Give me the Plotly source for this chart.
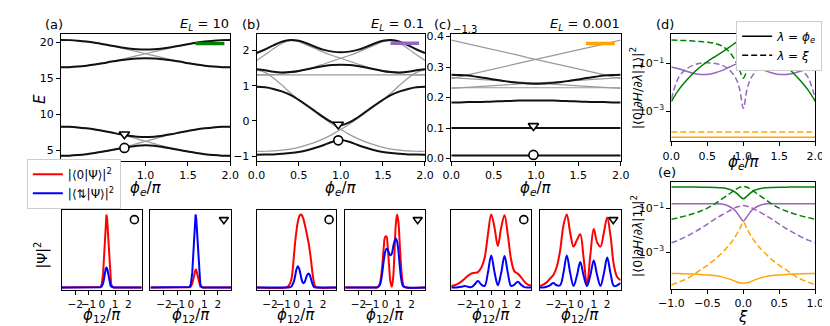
import plotly.graph_objects as go

W, H = 830, 326
FONT = 'DejaVu Sans'

# ---------------- data ----------------
PHI_E = [0.0, 0.1, 0.2, 0.3, 0.4, 0.5, 0.6, 0.7, 0.8, 0.9, 1.0,
         1.1, 1.2, 1.3, 1.4, 1.5, 1.6, 1.7, 1.8, 1.9, 2.0]

# (a) E_L = 10
A_GRAY_UP_LO = [4.2, 4.22, 4.3, 4.42, 4.58, 4.79, 5.02, 5.29, 5.58, 5.9, 6.22,
                6.55, 6.87, 7.16, 7.43, 7.66, 7.87, 8.03, 8.15, 8.23, 8.25]
A_GRAY_DN_LO = [8.25, 8.23, 8.15, 8.03, 7.87, 7.66, 7.43, 7.16, 6.87, 6.55, 6.22,
                5.9, 5.58, 5.29, 5.02, 4.79, 4.58, 4.42, 4.3, 4.22, 4.2]
A_GRAY_UP_HI = [16.5, 16.52, 16.6, 16.72, 16.88, 17.08, 17.32, 17.58, 17.85, 18.12, 18.4,
                18.68, 18.95, 19.22, 19.48, 19.72, 19.92, 20.08, 20.2, 20.28, 20.3]
A_GRAY_DN_HI = [20.3, 20.28, 20.2, 20.08, 19.92, 19.72, 19.48, 19.22, 18.95, 18.68, 18.4,
                18.12, 17.85, 17.58, 17.32, 17.08, 16.88, 16.72, 16.6, 16.52, 16.5]
A_BLACK_1 = [4.2, 4.22, 4.3, 4.42, 4.58, 4.79, 5.0, 5.22, 5.43, 5.6, 5.67,
             5.6, 5.43, 5.22, 5.0, 4.79, 4.58, 4.42, 4.3, 4.22, 4.2]
A_BLACK_2 = [8.25, 8.23, 8.15, 8.03, 7.87, 7.66, 7.43, 7.2, 7.0, 6.86, 6.8,
             6.86, 7.0, 7.2, 7.43, 7.66, 7.87, 8.03, 8.15, 8.23, 8.25]
A_BLACK_3 = [16.5, 16.52, 16.6, 16.72, 16.88, 17.08, 17.3, 17.48, 17.62, 17.72, 17.75,
             17.72, 17.62, 17.48, 17.3, 17.08, 16.88, 16.72, 16.6, 16.52, 16.5]
A_BLACK_4 = [20.3, 20.28, 20.2, 20.08, 19.92, 19.72, 19.5, 19.3, 19.13, 19.02, 18.98,
             19.02, 19.13, 19.3, 19.5, 19.72, 19.92, 20.08, 20.2, 20.28, 20.3]
A_MARK_PHI = [0.75, 0.75]
A_MARK_E = [5.3, 7.2]

# (b) E_L = 0.1
B_GRAY_UP = [-0.86, -0.86, -0.85, -0.83, -0.8, -0.75, -0.68, -0.6, -0.5, -0.38, -0.24,
             -0.09, 0.07, 0.24, 0.42, 0.6, 0.8, 1.02, 1.22, 1.38, 1.45]
B_GRAY_DN = [1.45, 1.38, 1.22, 1.02, 0.8, 0.6, 0.42, 0.24, 0.07, -0.09, -0.24,
             -0.38, -0.5, -0.6, -0.68, -0.75, -0.8, -0.83, -0.85, -0.86, -0.86]
B_GRAY_HUMP_L = [1.72, 1.88, 2.05, 2.2, 2.28, 2.25, 2.15, 2.05, 1.95, 1.86, 1.78,
                 1.7, 1.62, 1.54, 1.47, 1.41, 1.37, 1.34, 1.32, 1.31, 1.31]
B_GRAY_HUMP_R = [1.31, 1.31, 1.32, 1.34, 1.37, 1.41, 1.47, 1.54, 1.62, 1.7, 1.78,
                 1.86, 1.95, 2.05, 2.15, 2.25, 2.28, 2.2, 2.05, 1.88, 1.72]
B_GRAY_FLAT = [1.31, 1.31, 1.31, 1.31, 1.31, 1.31, 1.31, 1.31, 1.31, 1.31, 1.31,
               1.31, 1.31, 1.31, 1.31, 1.31, 1.31, 1.31, 1.31, 1.31, 1.31]
B_BLACK_1 = [-0.96, -0.955, -0.95, -0.93, -0.91, -0.88, -0.83, -0.76, -0.68, -0.59, -0.54,
             -0.59, -0.68, -0.76, -0.83, -0.88, -0.91, -0.93, -0.95, -0.955, -0.96]
B_BLACK_2 = [0.97, 0.955, 0.91, 0.84, 0.74, 0.6, 0.44, 0.27, 0.1, -0.04, -0.12,
             -0.04, 0.1, 0.27, 0.44, 0.6, 0.74, 0.84, 0.91, 0.955, 0.97]
B_BLACK_3 = [1.47, 1.44, 1.4, 1.38, 1.39, 1.42, 1.47, 1.52, 1.56, 1.59, 1.6,
             1.59, 1.56, 1.52, 1.47, 1.42, 1.39, 1.38, 1.4, 1.44, 1.47]
B_BLACK_4 = [1.93, 2.03, 2.15, 2.25, 2.3, 2.28, 2.2, 2.1, 2.02, 1.97, 1.95,
             1.97, 2.02, 2.1, 2.2, 2.28, 2.3, 2.25, 2.15, 2.03, 1.93]
B_MARK_PHI = [0.97, 0.97]
B_MARK_E = [-0.55, -0.1]

# (c) E_L = 0.001
C_GRAY_DN = [0.388, 0.382, 0.375, 0.369, 0.363, 0.357, 0.350, 0.344, 0.338, 0.331, 0.325,
             0.319, 0.313, 0.306, 0.300, 0.294, 0.287, 0.281, 0.275, 0.268, 0.262]
C_GRAY_UP = [0.262, 0.268, 0.275, 0.281, 0.287, 0.294, 0.300, 0.306, 0.313, 0.319, 0.325,
             0.331, 0.338, 0.344, 0.350, 0.357, 0.363, 0.369, 0.375, 0.382, 0.388]
C_GRAY_DN2 = [0.265, 0.263, 0.262, 0.260, 0.258, 0.256, 0.254, 0.253, 0.251, 0.249, 0.2475,
              0.246, 0.244, 0.242, 0.240, 0.239, 0.237, 0.235, 0.233, 0.232, 0.230]
C_GRAY_UP2 = [0.230, 0.232, 0.233, 0.235, 0.237, 0.239, 0.240, 0.242, 0.244, 0.246, 0.2475,
              0.249, 0.251, 0.253, 0.254, 0.256, 0.258, 0.260, 0.262, 0.263, 0.265]
C_GRAY_FLAT = [0.232, 0.232, 0.232, 0.232, 0.232, 0.232, 0.232, 0.232, 0.232, 0.232, 0.232,
               0.232, 0.232, 0.232, 0.232, 0.232, 0.232, 0.232, 0.232, 0.232, 0.232]
C_BLACK_1 = [0.01, 0.01, 0.01, 0.01, 0.01, 0.01, 0.01, 0.01, 0.01, 0.01, 0.01,
             0.01, 0.01, 0.01, 0.01, 0.01, 0.01, 0.01, 0.01, 0.01, 0.01]
C_BLACK_2 = [0.1, 0.1, 0.1, 0.1, 0.1, 0.1, 0.1, 0.1, 0.1, 0.1, 0.1,
             0.1, 0.1, 0.1, 0.1, 0.1, 0.1, 0.1, 0.1, 0.1, 0.1]
C_BLACK_3 = [0.184, 0.184, 0.185, 0.185, 0.186, 0.187, 0.188, 0.189, 0.19, 0.19, 0.19,
             0.19, 0.19, 0.189, 0.188, 0.187, 0.186, 0.185, 0.185, 0.184, 0.184]
C_BLACK_4 = [0.275, 0.274, 0.272, 0.268, 0.264, 0.259, 0.255, 0.251, 0.248, 0.246, 0.245,
             0.246, 0.248, 0.251, 0.255, 0.259, 0.264, 0.268, 0.272, 0.274, 0.275]
C_MARK_PHI = [0.97, 0.97]
C_MARK_E = [0.012, 0.107]

# colour-key bars in the top panels
BAR_PHI = [1.59, 1.93]
BAR_E_A = [19.8, 19.8]
BAR_E_B = [2.21, 2.21]
BAR_E_C = [0.377, 0.377]

# (d) matrix elements vs phi_e (log10 values)
D_PHI = [0.0, 0.1, 0.2, 0.3, 0.4, 0.5, 0.6, 0.7, 0.8, 0.9, 0.95, 1.0,
         1.05, 1.1, 1.2, 1.3, 1.4, 1.5, 1.6, 1.7, 1.8, 1.9, 2.0]
D_GREEN_SOLID = [-2.6, -2.12, -1.75, -1.42, -1.15, -0.92, -0.73, -0.54, -0.33, -0.12, -0.04, 0.0,
                 -0.04, -0.12, -0.33, -0.54, -0.73, -0.92, -1.15, -1.42, -1.75, -2.12, -2.6]
D_GREEN_DASH = [-0.02, -0.03, -0.04, -0.06, -0.08, -0.11, -0.16, -0.26, -0.5, -0.95, -1.3, -1.62,
                -1.3, -0.95, -0.5, -0.26, -0.16, -0.11, -0.08, -0.06, -0.04, -0.03, -0.02]
D_PURPLE_SOLID = [-1.15, -1.22, -1.32, -1.41, -1.46, -1.46, -1.4, -1.3, -1.16, -1.03, -0.98, -0.96,
                  -0.98, -1.03, -1.16, -1.3, -1.4, -1.46, -1.46, -1.41, -1.32, -1.22, -1.15]
D_PURPLE_DASH = [-2.5, -1.6, -1.25, -1.08, -0.99, -0.97, -1.0, -1.07, -1.25, -1.65, -2.1, -2.88,
                 -2.1, -1.65, -1.25, -1.07, -1.0, -0.97, -0.99, -1.08, -1.25, -1.6, -2.5]
D_ORANGE_SOLID = [-4.1] * 23
D_ORANGE_DASH = [-3.88] * 23

# (e) matrix elements vs xi (log10 values)
E_XI = [-1.0, -0.9, -0.8, -0.7, -0.6, -0.5, -0.4, -0.3, -0.2, -0.15, -0.1, -0.05, 0.0,
        0.05, 0.1, 0.15, 0.2, 0.3, 0.4, 0.5, 0.6, 0.7, 0.8, 0.9, 1.0]
E_GREEN_SOLID = [-0.02, -0.02, -0.02, -0.02, -0.03, -0.03, -0.04, -0.06, -0.12, -0.18, -0.29, -0.44, -0.56,
                 -0.44, -0.29, -0.18, -0.12, -0.06, -0.04, -0.03, -0.03, -0.02, -0.02, -0.02, -0.02]
E_GREEN_DASH = [-1.5, -1.42, -1.34, -1.24, -1.13, -0.99, -0.8, -0.58, -0.35, -0.23, -0.12, -0.03, 0.01,
                -0.03, -0.12, -0.23, -0.35, -0.58, -0.8, -0.99, -1.13, -1.24, -1.34, -1.42, -1.5]
E_PURPLE_SOLID = [-0.79, -0.79, -0.79, -0.79, -0.79, -0.79, -0.79, -0.8, -0.9, -1.0, -1.15, -1.38, -1.58,
                  -1.38, -1.15, -1.0, -0.9, -0.8, -0.79, -0.79, -0.79, -0.79, -0.79, -0.79, -0.79]
E_PURPLE_DASH = [-2.57, -2.45, -2.3, -2.12, -1.93, -1.72, -1.5, -1.3, -1.12, -1.03, -0.95, -0.9, -0.87,
                 -0.9, -0.95, -1.03, -1.12, -1.3, -1.5, -1.72, -1.93, -2.12, -2.3, -2.45, -2.57]
E_ORANGE_SOLID = [-3.97, -3.98, -3.99, -4.0, -4.02, -4.04, -4.07, -4.13, -4.22, -4.28, -4.35, -4.4, -4.42,
                  -4.4, -4.35, -4.28, -4.22, -4.13, -4.07, -4.04, -4.02, -4.0, -3.99, -3.98, -3.97]
E_ORANGE_DASH = [-4.5, -4.37, -4.24, -4.05, -3.82, -3.6, -3.35, -3.04, -2.69, -2.47, -2.22, -1.93, -1.62,
                 -1.93, -2.22, -2.47, -2.69, -3.04, -3.35, -3.6, -3.82, -4.05, -4.24, -4.37, -4.5]

# wavefunctions |Psi|^2 (bottom row)
PSI_A_X = [-3.0, -0.2, -0.1, 0.0, 0.05, 0.1, 0.15, 0.2, 0.25, 0.3, 0.35,
           0.4, 0.45, 0.5, 0.55, 0.6, 0.65, 0.7, 0.8, 0.9, 3.0]
A_CIRC_RED = [0, 0, 0.006, 0.044, 0.1, 0.2, 0.36, 0.56, 0.78, 0.94, 1.0,
              0.94, 0.78, 0.56, 0.36, 0.2, 0.1, 0.044, 0.006, 0, 0]
A_CIRC_BLUE = [0, 0, 0.003, 0.015, 0.03, 0.06, 0.1, 0.16, 0.22, 0.26, 0.27,
               0.26, 0.22, 0.16, 0.1, 0.06, 0.03, 0.015, 0.003, 0, 0]
A_TRI_RED = [0, 0, 0.002, 0.012, 0.027, 0.052, 0.09, 0.14, 0.2, 0.24, 0.25,
             0.24, 0.2, 0.14, 0.09, 0.052, 0.027, 0.012, 0.002, 0, 0]
A_TRI_BLUE = [0, 0, 0.006, 0.044, 0.1, 0.2, 0.36, 0.56, 0.78, 0.94, 1.0,
              0.94, 0.78, 0.56, 0.36, 0.2, 0.1, 0.044, 0.006, 0, 0]

PSI_B_X = [-3.0, -0.8, -0.6, -0.4, -0.3, -0.2, -0.1, 0.0, 0.1, 0.2, 0.3, 0.4,
           0.5, 0.6, 0.7, 0.8, 0.9, 1.0, 1.1, 1.2, 1.3, 1.4, 1.6, 3.0]
B_CIRC_RED = [0, 0, 0.02, 0.1, 0.22, 0.42, 0.62, 0.78, 0.9, 0.97, 1.0, 0.99,
              0.95, 0.88, 0.8, 0.71, 0.62, 0.5, 0.36, 0.2, 0.08, 0.02, 0, 0]
B_CIRC_BLUE = [0, 0, 0, 0.01, 0.04, 0.08, 0.16, 0.25, 0.29, 0.26, 0.18, 0.1,
               0.06, 0.07, 0.12, 0.17, 0.19, 0.17, 0.11, 0.05, 0.01, 0, 0, 0]
B_TRI_RED = [0, 0, 0, 0.05, 0.15, 0.32, 0.55, 0.69, 0.7, 0.55, 0.3, 0.08,
             0.01, 0.12, 0.45, 0.85, 1.0, 0.9, 0.6, 0.3, 0.1, 0.02, 0, 0]
B_TRI_BLUE = [0, 0, 0, 0.03, 0.1, 0.22, 0.37, 0.48, 0.53, 0.52, 0.47, 0.44,
              0.46, 0.55, 0.63, 0.67, 0.63, 0.5, 0.3, 0.13, 0.04, 0.01, 0, 0]

PSI_C_X = [-3.0, -2.75, -2.5, -2.25, -2.0, -1.75, -1.5, -1.25, -1.0, -0.75, -0.5, -0.25, 0.0,
           0.25, 0.5, 0.75, 1.0, 1.25, 1.5, 1.75, 2.0, 2.25, 2.5, 2.75, 3.0]
C_CIRC_RED = [0.02, 0.03, 0.05, 0.08, 0.12, 0.16, 0.19, 0.2, 0.21, 0.27, 0.4, 0.72, 1.0,
              0.82, 0.57, 0.82, 0.99, 0.72, 0.38, 0.22, 0.19, 0.14, 0.08, 0.04, 0.03]
C_CIRC_BLUE = [0, 0, 0.003, 0.01, 0.02, 0.01, 0.005, 0.04, 0.09, 0.04, 0.02, 0.2, 0.44,
               0.21, 0.03, 0.2, 0.43, 0.2, 0.02, 0.04, 0.08, 0.035, 0.005, 0, 0]
C_TRI_RED = [0.02, 0.04, 0.07, 0.12, 0.17, 0.28, 0.5, 0.85, 1.0, 0.75, 0.56, 0.65, 0.73,
             0.4, 0.04, 0.45, 0.8, 0.62, 0.56, 0.75, 0.96, 0.7, 0.3, 0.14, 0.1]
C_TRI_BLUE = [0, 0, 0.01, 0.03, 0.06, 0.03, 0.03, 0.2, 0.44, 0.2, 0.02, 0.16, 0.35,
              0.16, 0.02, 0.17, 0.37, 0.17, 0.02, 0.19, 0.41, 0.19, 0.02, 0.03, 0.06]

PSI_MARK_X = [2.45]
PSI_MARK_Y = [0.93]

GREEN, PURPLE, ORANGE = '#008000', '#9467bd', '#ffa500'

# ---------------- figure ----------------
fig = go.Figure()


def dom_x(l, r):
    return [l / W, r / W]


def dom_y(t, b):
    return [1 - b / H, 1 - t / H]


axis_common = dict(showline=True, linecolor='black', linewidth=1, mirror=True,
                   ticks='outside', ticklen=4, tickwidth=1, tickcolor='black',
                   showgrid=False, zeroline=False, fixedrange=True, tickangle=0,
                   tickfont=dict(family=FONT, size=11, color='black'))

layout_axes = {}


def add_axes(i, xd, yd, xr, yr, xtv=None, xtt=None, ytv=None, ytt=None, ylog=False,
             yshow=True, xfont=11):
    xk = 'xaxis' if i == 1 else f'xaxis{i}'
    yk = 'yaxis' if i == 1 else f'yaxis{i}'
    xa = dict(axis_common, domain=xd, range=xr, anchor='y' if i == 1 else f'y{i}')
    xa['tickfont'] = dict(family=FONT, size=xfont, color='black')
    ya = dict(axis_common, domain=yd, range=yr, anchor='x' if i == 1 else f'x{i}')
    if xtv is not None:
        xa.update(tickmode='array', tickvals=xtv, ticktext=xtt)
    if ytv is not None:
        ya.update(tickmode='array', tickvals=ytv, ticktext=ytt)
    if ylog:
        ya['type'] = 'log'
    if not yshow:
        ya.update(ticks='', showticklabels=False)
    layout_axes[xk] = xa
    layout_axes[yk] = ya


def ax(i):
    return ('x' if i == 1 else f'x{i}', 'y' if i == 1 else f'y{i}')


def line(i, x, y, color, width, dash='solid', shape='spline', name=None, legend=None):
    xa, ya = ax(i)
    fig.add_trace(go.Scatter(x=x, y=y, xaxis=xa, yaxis=ya, mode='lines',
                             line=dict(color=color, width=width, dash=dash, shape=shape),
                             name=name or '', showlegend=legend is not None,
                             legend=legend or 'legend', hoverinfo='skip'))


def markers(i, x, y, symbols, size=9):
    xa, ya = ax(i)
    fig.add_trace(go.Scatter(x=x, y=y, xaxis=xa, yaxis=ya, mode='markers',
                             marker=dict(symbol=symbols, size=size, color='white',
                                         line=dict(color='black', width=1.6)),
                             showlegend=False, hoverinfo='skip'))


X_TOP_TV = [0.0, 0.5, 1.0, 1.5, 2.0]
X_TOP_TT = ['0.0', '0.5', '1.0', '1.5', '2.0']
TOP_Y = dom_y(23, 153)

add_axes(1, dom_x(41, 215), TOP_Y, [0, 2], [3.51, 21.08], X_TOP_TV, X_TOP_TT,
         [5, 10, 15, 20], ['5', '10', '15', '20'])
add_axes(2, dom_x(242, 415), TOP_Y, [0, 2], [-1.13, 2.46], X_TOP_TV, X_TOP_TT,
         [-1, 0, 1, 2], ['−1', '0', '1', '2'])
add_axes(3, dom_x(442, 616), TOP_Y, [0, 2], [-0.0073, 0.407], X_TOP_TV, X_TOP_TT,
         [0, 0.1, 0.2, 0.3, 0.4], ['0.0', '0.1', '0.2', '0.3', '0.4'])
add_axes(4, dom_x(668, 816), dom_y(23, 133), [0, 2], [-4.27, 0.22], X_TOP_TV, X_TOP_TT,
         [1e-3, 1e-1], ['10<sup>−3</sup>', '10<sup>−1</sup>'], ylog=True)
add_axes(5, dom_x(668, 816), dom_y(175, 285), [-1, 1], [-4.69, 0.2],
         [-1.0, -0.5, 0.0, 0.5, 1.0], ['−1.0', '−0.5', '0.0', '0.5', '1.0'],
         [1e-3, 1e-1], ['10<sup>−3</sup>', '10<sup>−1</sup>'], ylog=True)

BOT_Y = dom_y(204, 286)
BOT_X = [(42, 124), (133, 216), (242, 324), (333, 415), (442, 524), (533, 616)]
for k, (l, r) in enumerate(BOT_X):
    add_axes(6 + k, dom_x(l, r), BOT_Y, [-3, 3], [-0.036, 1.057],
             [-2, -1, 0, 1, 2], ['−2', '−1', '0', '1', '2'], yshow=False, xfont=10.5)

GRAY = '#9a9a9a'
BLK = '#111111'
# (a)
for g in (A_GRAY_UP_LO, A_GRAY_DN_LO, A_GRAY_UP_HI, A_GRAY_DN_HI):
    line(1, PHI_E, g, GRAY, 1.2)
for b in (A_BLACK_1, A_BLACK_2, A_BLACK_3, A_BLACK_4):
    line(1, PHI_E, b, BLK, 2)
markers(1, A_MARK_PHI, A_MARK_E, ['circle', 'triangle-down'])
line(1, BAR_PHI, BAR_E_A, GREEN, 3.5, shape='linear')
# (b)
for g in (B_GRAY_UP, B_GRAY_DN, B_GRAY_HUMP_L, B_GRAY_HUMP_R, B_GRAY_FLAT):
    line(2, PHI_E, g, GRAY, 1.2)
for b in (B_BLACK_1, B_BLACK_2, B_BLACK_3, B_BLACK_4):
    line(2, PHI_E, b, BLK, 2)
markers(2, B_MARK_PHI, B_MARK_E, ['circle', 'triangle-down'])
line(2, BAR_PHI, BAR_E_B, PURPLE, 3.5, shape='linear')
# (c)
for g in (C_GRAY_DN, C_GRAY_UP, C_GRAY_DN2, C_GRAY_UP2, C_GRAY_FLAT):
    line(3, PHI_E, g, GRAY, 1.2, shape='linear')
for b in (C_BLACK_1, C_BLACK_2, C_BLACK_3, C_BLACK_4):
    line(3, PHI_E, b, BLK, 2)
markers(3, C_MARK_PHI, C_MARK_E, ['circle', 'triangle-down'])
line(3, BAR_PHI, BAR_E_C, ORANGE, 3.5, shape='linear')

# (d)
DASH = '6px,3px'
for vals, col, dsh in ((D_ORANGE_SOLID, ORANGE, 'solid'), (D_ORANGE_DASH, ORANGE, DASH),
                       (D_PURPLE_SOLID, PURPLE, 'solid'), (D_PURPLE_DASH, PURPLE, DASH),
                       (D_GREEN_SOLID, GREEN, 'solid'), (D_GREEN_DASH, GREEN, DASH)):
    line(4, D_PHI, [10 ** v for v in vals], col, 1.5, dash=dsh)
# (e)
for vals, col, dsh in ((E_ORANGE_SOLID, ORANGE, 'solid'), (E_ORANGE_DASH, ORANGE, DASH),
                       (E_PURPLE_SOLID, PURPLE, 'solid'), (E_PURPLE_DASH, PURPLE, DASH),
                       (E_GREEN_SOLID, GREEN, 'solid'), (E_GREEN_DASH, GREEN, DASH)):
    line(5, E_XI, [10 ** v for v in vals], col, 1.5, dash=dsh)

# legend-only traces for (d)
line(4, [None], [None], 'black', 1.5, name='<i>λ</i> = <i>ϕ</i><sub><i>e</i></sub>', legend='legend2')
line(4, [None], [None], 'black', 1.5, dash=DASH, name='<i>λ</i> = <i>ξ</i>', legend='legend2')

# bottom row
RED, BLUE = '#ff0000', '#0000ff'
bottom = [
    (PSI_A_X, A_CIRC_RED, A_CIRC_BLUE, 'circle', 'linear'),
    (PSI_A_X, A_TRI_RED, A_TRI_BLUE, 'triangle-down', 'linear'),
    (PSI_B_X, B_CIRC_RED, B_CIRC_BLUE, 'circle', 'spline'),
    (PSI_B_X, B_TRI_RED, B_TRI_BLUE, 'triangle-down', 'spline'),
    (PSI_C_X, C_CIRC_RED, C_CIRC_BLUE, 'circle', 'spline'),
    (PSI_C_X, C_TRI_RED, C_TRI_BLUE, 'triangle-down', 'spline'),
]
for k, (xs, red, blue, sym, shp) in enumerate(bottom):
    i = 6 + k
    if k == 0:
        line(i, xs, red, RED, 2, shape=shp, name='|⟨0|Ψ⟩|<sup>2</sup>', legend='legend')
        line(i, xs, blue, BLUE, 2, shape=shp, name='|⟨⇅|Ψ⟩|<sup>2</sup>', legend='legend')
    else:
        line(i, xs, red, RED, 2, shape=shp)
        line(i, xs, blue, BLUE, 2, shape=shp)
    markers(i, PSI_MARK_X, PSI_MARK_Y, [sym], size=8)

# ---------------- annotations ----------------
ann = []


def text(t, x, y, size=13, xanchor='center', yanchor='middle', angle=0):
    ann.append(dict(text=t, x=x / W, y=1 - y / H, xref='paper', yref='paper',
                    xanchor=xanchor, yanchor=yanchor, showarrow=False, textangle=angle,
                    font=dict(family=FONT, size=size, color='black')))


text('(a)', 34, 13)
text('<i>E</i><sub><i>L</i></sub> = 10', 216, 13, xanchor='right')
text('(b)', 236, 13)
text('<i>E</i><sub><i>L</i></sub> = 0.1', 416, 13, xanchor='right')
text('(c)', 433, 13)
text('−1.3', 442, 18, size=10, xanchor='left')
text('<i>E</i><sub><i>L</i></sub> = 0.001', 617, 13, xanchor='right')
text('(d)', 662, 13)
text('(e)', 664, 165)

text('<i>E</i>', 19, 89, size=15, angle=-90)
PHI_E_LABEL = '<i>ϕ</i><sub><i>e</i></sub>/<i>π</i>'
for cx in (128, 328.5, 529):
    text(PHI_E_LABEL, cx, 182, size=15)
text(PHI_E_LABEL, 742, 155, size=15)
text('<i>ξ</i>', 742, 314, size=15)
text('|Ψ|<sup>2</sup>', 21, 250, size=14, angle=-90)
for (l, r) in BOT_X:
    text('<i>ϕ</i><sub>12</sub>/<i>π</i>', (l + r) / 2, 312, size=15)
YLAB = '|⟨0|∂<i>H</i>/∂<i>λ</i>|1⟩|<sup>2</sup>'
text(YLAB, 632, 78, size=12.5, angle=-90)
text(YLAB, 632, 230, size=12.5, angle=-90)

fig.update_layout(
    width=W, height=H, autosize=False,
    margin=dict(l=0, r=0, t=0, b=0),
    paper_bgcolor='white', plot_bgcolor='white',
    annotations=ann,
    legend=dict(x=6 / W, y=1 - 151 / H, xanchor='left', yanchor='top',
                bgcolor='white', bordercolor='#cccccc', borderwidth=1,
                font=dict(family=FONT, size=12, color='black'), itemwidth=30),
    legend2=dict(x=823 / W, y=1 - 9 / H, xanchor='right', yanchor='top',
                 bgcolor='white', bordercolor='#cccccc', borderwidth=1,
                 font=dict(family=FONT, size=12, color='black'), itemwidth=30),
    **layout_axes,
)

fig.write_html('out.html')
